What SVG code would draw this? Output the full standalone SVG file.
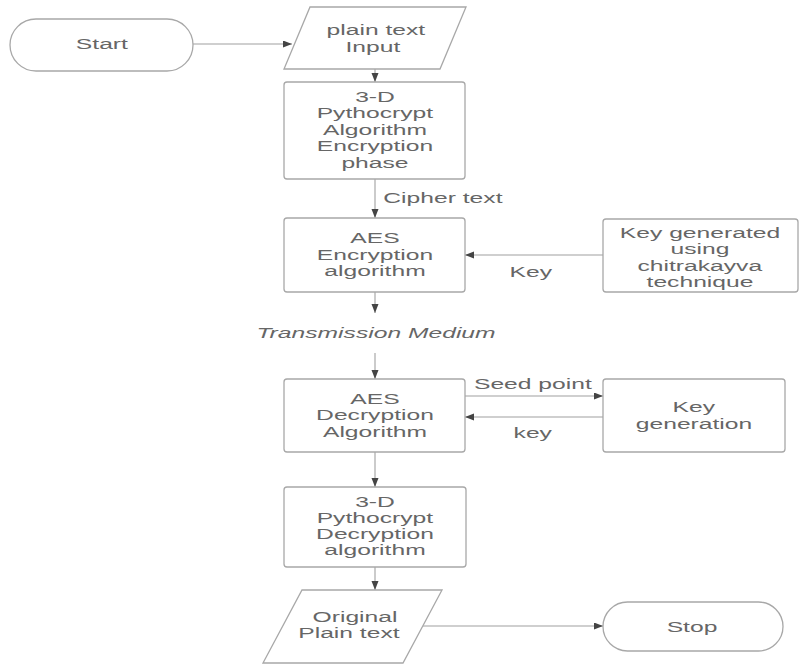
<svg xmlns="http://www.w3.org/2000/svg" width="801" height="664" viewBox="0 0 801 664">
  <style>
    .shape { fill: #ffffff; stroke: #a8a8a8; stroke-width: 1.3; }
    .wire { fill: none; stroke: #a0a0a0; stroke-width: 1.1; }
    text { font-family: "Liberation Sans", Arial, sans-serif; font-size: 14.5px; fill: #666666; text-anchor: middle;
           transform-box: fill-box; transform-origin: center; transform: scaleX(1.7); }
    .it { font-style: italic; }
  </style>
  <defs>
    <marker id="arrow" markerUnits="userSpaceOnUse" markerWidth="10" markerHeight="8" refX="9" refY="3.5" orient="auto">
      <path d="M0,0 L9,3.5 L0,7 z" fill="#444444"/>
    </marker>
  </defs>
  <rect width="801" height="664" fill="#ffffff"/>

  <!-- connectors and their labels -->
  <g id="connectors">
    <line class="wire" x1="193" y1="44" x2="292" y2="44" marker-end="url(#arrow)"/>
    <line class="wire" x1="375" y1="69" x2="375" y2="82" marker-end="url(#arrow)"/>
    <line class="wire" x1="375" y1="179" x2="375" y2="218" marker-end="url(#arrow)"/>
    <line class="wire" x1="603" y1="255" x2="465" y2="255" marker-end="url(#arrow)"/>
    <line class="wire" x1="375" y1="292" x2="375" y2="313" marker-end="url(#arrow)"/>
    <line class="wire" x1="375" y1="353" x2="375" y2="379" marker-end="url(#arrow)"/>
    <line class="wire" x1="465" y1="396" x2="603" y2="396" marker-end="url(#arrow)"/>
    <line class="wire" x1="603" y1="417" x2="465" y2="417" marker-end="url(#arrow)"/>
    <line class="wire" x1="375" y1="452" x2="375" y2="487" marker-end="url(#arrow)"/>
    <line class="wire" x1="375" y1="567" x2="375" y2="590" marker-end="url(#arrow)"/>
    <line class="wire" x1="423" y1="626" x2="603" y2="626" marker-end="url(#arrow)"/>
    <text x="443" y="203">Cipher text</text>
    <text x="531" y="277">Key</text>
    <text class="it" x="376" y="338">Transmission Medium</text>
    <text x="533" y="389">Seed point</text>
    <text x="533" y="438">key</text>
  </g>

  <g id="start">
    <rect class="shape" x="10" y="19" width="183" height="52" rx="26"/>
    <text x="102" y="49">Start</text>
  </g>

  <g id="plain-input">
    <polygon class="shape" points="310,7 466,7 440,69 284,69"/>
    <text x="376" y="35">plain text</text>
    <text x="373" y="52">Input</text>
  </g>

  <g id="pythocrypt-encrypt">
    <rect class="shape" x="284" y="82" width="181" height="97" rx="3"/>
    <text x="375" y="102">3-D</text>
    <text x="375" y="118.5">Pythocrypt</text>
    <text x="375" y="135">Algorithm</text>
    <text x="375" y="151.5">Encryption</text>
    <text x="375" y="168">phase</text>
  </g>

  <g id="aes-encrypt">
    <rect class="shape" x="284" y="218" width="181" height="74" rx="3"/>
    <text x="375" y="243.5">AES</text>
    <text x="375" y="260">Encryption</text>
    <text x="375" y="276.5">algorithm</text>
  </g>

  <g id="key-chitrakavya">
    <rect class="shape" x="603" y="219" width="195" height="73" rx="3"/>
    <text x="700" y="238">Key generated</text>
    <text x="700" y="254.5">using</text>
    <text x="700" y="271">chitrakayva</text>
    <text x="700" y="287">technique</text>
  </g>

  <g id="aes-decrypt">
    <rect class="shape" x="284" y="379" width="181" height="73" rx="3"/>
    <text x="375" y="404">AES</text>
    <text x="375" y="420.5">Decryption</text>
    <text x="375" y="437">Algorithm</text>
  </g>

  <g id="key-generation">
    <rect class="shape" x="603" y="379" width="182" height="73" rx="3"/>
    <text x="694" y="412">Key</text>
    <text x="694" y="429">generation</text>
  </g>

  <g id="pythocrypt-decrypt">
    <rect class="shape" x="284" y="487" width="182" height="80" rx="3"/>
    <text x="375" y="507">3-D</text>
    <text x="375" y="523">Pythocrypt</text>
    <text x="375" y="539">Decryption</text>
    <text x="375" y="555">algorithm</text>
  </g>

  <g id="original-plain">
    <polygon class="shape" points="302,590 442,590 403,663 263,663"/>
    <text x="355" y="622">Original</text>
    <text x="349" y="638">Plain text</text>
  </g>

  <g id="stop">
    <rect class="shape" x="603" y="602" width="180" height="49" rx="24.5"/>
    <text x="692" y="632">Stop</text>
  </g>
</svg>
